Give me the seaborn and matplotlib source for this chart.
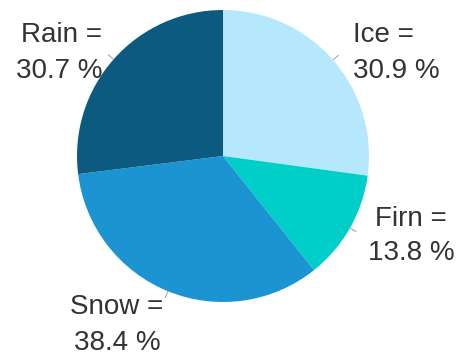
import numpy as np
import matplotlib
matplotlib.use("Agg")
import matplotlib.pyplot as plt
import seaborn as sns

# Water source shares (percent, as labelled)
categories = ["Ice", "Firn", "Snow", "Rain"]
shares = [30.9, 13.8, 38.4, 30.7]
slice_colors = ["#B5E8FC", "#00CEC9", "#1C94D2", "#0D5A80"]

# label anchor points (pixel coordinates, y measured upward) and alignment
label_xy = {
    "Ice": (353, 308, "left"),
    "Firn": (411, 125, "center"),
    "Snow": (117, 36, "center"),
    "Rain": (102, 308, "right"),
}

sns.set_theme(style="white")
plt.rcParams["font.family"] = ["Liberation Sans", "DejaVu Sans"]

W, H = 471, 361
fig = plt.figure(figsize=(W / 100, H / 100), dpi=100)
ax = fig.add_axes([0, 0, 1, 1])

cx, cy, r = 223, 205, 146
wedges, _ = ax.pie(
    shares,
    colors=slice_colors,
    startangle=90,
    counterclock=False,
    radius=r,
    center=(cx, cy),
    wedgeprops=dict(linewidth=0),
    frame=True,
)
ax.set_xlim(0, W)
ax.set_ylim(0, H)
ax.set_aspect("equal")
ax.axis("off")

for name, val, w in zip(categories, shares, wedges):
    mid = np.deg2rad((w.theta1 + w.theta2) / 2)
    ax.plot(
        [cx + r * 1.0 * np.cos(mid), cx + r * 1.05 * np.cos(mid)],
        [cy + r * 1.0 * np.sin(mid), cy + r * 1.05 * np.sin(mid)],
        color="#a8a8a8", lw=0.8, solid_capstyle="butt",
    )
    tx, ty, align = label_xy[name]
    ax.text(
        tx, ty, f"{name} =\n{val} %",
        ha=align, va="center", multialignment=align,
        fontsize=20, color="#333333", linespacing=1.45,
    )

fig.savefig("out.png", dpi=100, facecolor="white")
